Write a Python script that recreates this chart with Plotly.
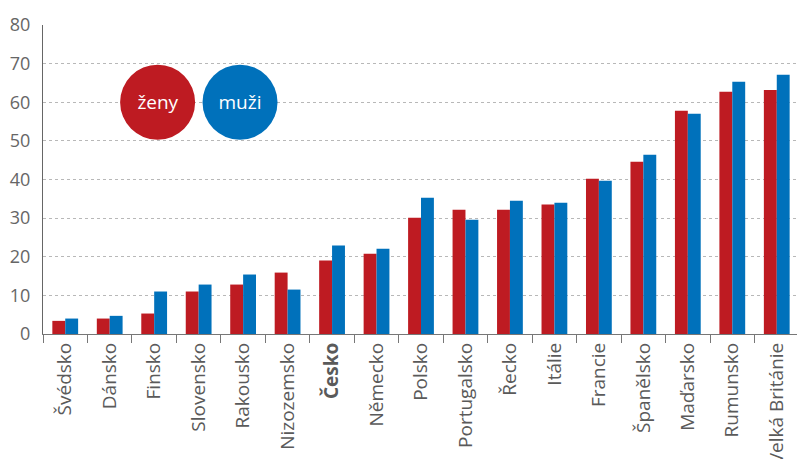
import plotly.graph_objects as go

# Countries in display order
countries = ["Švédsko", "Dánsko", "Finsko", "Slovensko", "Rakousko", "Nizozemsko",
             "Česko", "Německo", "Polsko", "Portugalsko", "Řecko", "Itálie",
             "Francie", "Španělsko", "Maďarsko", "Rumunsko", "Velká Británie"]

# Values per country
zeny = [3.4, 4.0, 5.3, 11.0, 12.8, 15.9, 19.0, 20.8, 30.1, 32.2, 32.2, 33.5,
        40.2, 44.6, 57.8, 62.7, 63.2]
muzi = [4.0, 4.7, 11.0, 12.8, 15.4, 11.5, 22.9, 22.1, 35.3, 29.6, 34.5, 34.0,
        39.7, 46.4, 57.0, 65.3, 67.1]

y_ticks = [0, 10, 20, 30, 40, 50, 60, 70, 80]

RED = "#BE1B22"
BLUE = "#0071BB"
FONT = "Open Sans"

tick_text = [f"<b>{c}</b>" if c == "Česko" else c for c in countries]

fig = go.Figure()
fig.add_trace(go.Bar(x=countries, y=zeny, name="ženy", marker=dict(color=RED, line=dict(width=0))))
fig.add_trace(go.Bar(x=countries, y=muzi, name="muži", marker=dict(color=BLUE, line=dict(width=0))))

fig.update_layout(
    width=797, height=459,
    margin=dict(l=43, r=0, t=25, b=125),
    paper_bgcolor="white", plot_bgcolor="white",
    barmode="group", bargap=0.42, bargroupgap=0,
    showlegend=False,
    font=dict(family=FONT, color="#555555"),
)

fig.update_xaxes(
    type="category",
    automargin=False,
    range=[-0.5, 16.455],
    tickmode="array", tickvals=countries, ticktext=tick_text,
    tickangle=-90,
    tickfont=dict(size=19, color="#5a5a5a", family=FONT),
    ticks="outside", tickson="boundaries", ticklen=8, tickwidth=1.3, tickcolor="#777777",
    showline=True, linecolor="#777777", linewidth=1.3,
    showgrid=False,
)

fig.update_yaxes(
    automargin=False,
    range=[0, 80],
    tickmode="array", tickvals=y_ticks,
    tickfont=dict(size=18, color="#666666", family=FONT),
    ticks="", ticklabelstandoff=8,
    showline=True, linecolor="#666666", linewidth=1.3,
    showgrid=True, gridcolor="#b8b8b8", gridwidth=1, griddash="3px,3px",
    zeroline=False,
)

# Legend bubbles
for cx, label, color in [(0.152, "ženy", RED), (0.2613, "muži", BLUE)]:
    fig.add_shape(type="circle", xref="paper", yref="y",
                  xsizemode="pixel", ysizemode="pixel",
                  xanchor=cx, yanchor=60,
                  x0=-37.5, x1=37.5, y0=-37.5, y1=37.5,
                  fillcolor=color, line=dict(width=0), layer="above")
    fig.add_annotation(x=cx, y=60, xref="paper", yref="y", text=label,
                       xanchor="center", yanchor="middle", width=70, align="center",
                       showarrow=False, font=dict(size=19, color="white", family=FONT))

fig.write_html("out.html")
